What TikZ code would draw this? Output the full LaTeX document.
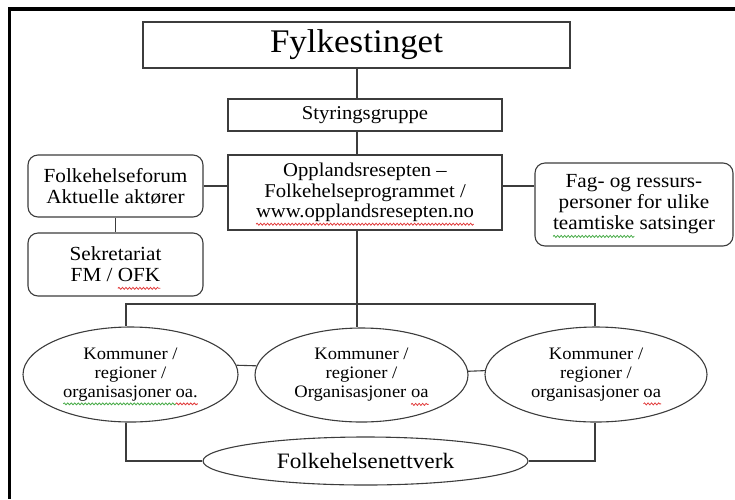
\documentclass[tikz,border=0pt]{standalone}
\usepackage{fontspec}
\setmainfont{Liberation Serif}[FakeStretch=1.06]
\usetikzlibrary{shapes, positioning, decorations.pathmorphing}
\definecolor{strek}{RGB}{60,60,60}
\definecolor{bolgerod}{RGB}{225,60,60}
\definecolor{bolgegronn}{RGB}{70,170,70}
\newlength{\bolgebredde}
\newcommand{\bolge}[2]{\settowidth{\bolgebredde}{#2}#2\tikz[overlay, baseline=0pt]\draw[draw=#1, line width=0.8pt, sharp corners, decorate, decoration={snake, amplitude=1pt, segment length=3.5pt}] (-\bolgebredde,-6.5pt) -- (0pt,-6.5pt);}
\tikzstyle{boks} = [rectangle, draw=strek, line width=1.1pt, align=center, inner sep=0pt, font=\fontsize{19.5}{20.5}\selectfont]
\tikzstyle{rund} = [rectangle, rounded corners=10pt, draw=strek, line width=1.1pt, align=center, inner sep=0pt, font=\fontsize{20}{21}\selectfont]
\tikzstyle{oval} = [ellipse, draw=strek, line width=1.1pt, align=center, inner sep=0pt, font=\fontsize{17.5}{19}\selectfont]
\tikzstyle{linje} = [draw=strek, line width=1.1pt]
\tikzstyle{ramme} = [draw=black, line width=3.3pt]

\begin{document}
\begin{tikzpicture}[x=1pt, y=-1pt]
  \useasboundingbox (0,0) rectangle (735,499);
  % ramme
  \draw[ramme] (735,9) -- (9.8,9) -- (9.8,499);

  % ledelse
  \node[boks, minimum width=427, minimum height=46, font=\fontsize{33}{36}\selectfont] (fylke) at (356.5,45) {Fylkestinget};
  \node[boks, minimum width=274, minimum height=32] (styr) at (365,115) {Styringsgruppe};
  \node[boks, minimum width=274, minimum height=75] (oppl) at (365,192.5)
    {Opplandsresepten --\\Folkehelseprogrammet /\\\bolge{bolgerod}{www.opplandsresepten.no}};

  % sidebokser
  \node[rund, minimum width=175, minimum height=62] (forum) at (115.5,186) {Folkehelseforum\\Aktuelle aktører};
  \node[rund, minimum width=175, minimum height=63] (sekr) at (115.5,264.5) {Sekretariat\\FM / \bolge{bolgerod}{OFK}};
  \node[rund, minimum width=198, minimum height=83] (fag) at (634,204.5)
    {Fag- og ressurs-\\personer for ulike\\\bolge{bolgegronn}{teamtiske} satsinger};

  % kommuner
  \node[oval, minimum width=215, minimum height=95] (kom1) at (130.5,374.5)
    {Kommuner /\\regioner /\\\bolge{bolgegronn}{organisasjoner }\bolge{bolgerod}{oa.}};
  \node[oval, minimum width=213, minimum height=94] (kom2) at (361.5,375)
    {Kommuner /\\regioner /\\Organisasjoner \bolge{bolgerod}{oa}};
  \node[oval, minimum width=222, minimum height=95] (kom3) at (596,374.5)
    {Kommuner /\\regioner /\\organisasjoner \bolge{bolgerod}{oa}};
  \node[oval, minimum width=325, minimum height=48, font=\fontsize{22}{24}\selectfont] (nett) at (365.5,461) {Folkehelsenettverk};

  % knutepunkt
  \coordinate (b1) at (126,304);
  \coordinate (b2) at (357,304);
  \coordinate (b3) at (595,304);

  % linjer
  \draw[linje] (fylke.south -| b2) -- (styr.north -| b2);
  \draw[linje] (styr.south -| b2) -- (oppl.north -| b2);
  \draw[linje] (forum.east) -- (oppl.west |- forum.east);
  \draw[linje] (oppl.east |- forum.east) -- (fag.west |- forum.east);
  \draw[linje] (forum.south) -- (sekr.north);
  \draw[linje] (oppl.south -| b2) -- (b2) -- (b2 |- kom2.north);
  \draw[linje] (b1 |- kom1.north) -- (b1) -- (b3) -- (b3 |- kom3.north);
  \draw[linje] (kom1.5) -- (kom2.175);
  \draw[linje] (kom2.2) -- (kom3.178);
  \draw[linje] (kom1.south -| b1) |- (nett.west);
  \draw[linje] (kom3.south -| b3) |- (nett.east);
\end{tikzpicture}
\end{document}
